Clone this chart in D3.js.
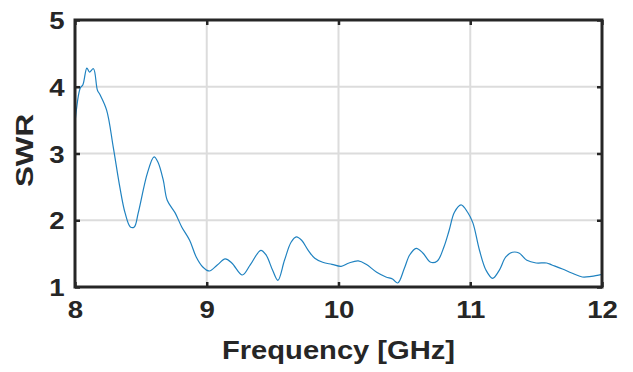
<!DOCTYPE html>
<html>
<head>
<meta charset="utf-8">
<script src="https://cdn.jsdelivr.net/npm/d3@7"></script>
<style>
  body { margin: 0; background: #fff; }
  text { font-family: "Liberation Sans", Arial, sans-serif; font-weight: bold; fill: #262626; }
</style>
</head>
<body>
<div id="chart"></div>
<script>
// measured SWR curve
const freq = [8.00, 8.04, 8.06, 8.09, 8.11, 8.14, 8.17, 8.19, 8.24, 8.29, 8.34, 8.38, 8.42, 8.45, 8.48,
  8.55, 8.60, 8.63, 8.67, 8.70, 8.76, 8.81, 8.87, 8.92, 8.97, 9.02, 9.08, 9.14, 9.19, 9.27, 9.33,
  9.41, 9.45, 9.50, 9.54, 9.59, 9.64, 9.68, 9.72, 9.77, 9.82, 9.88, 9.95, 10.02, 10.08, 10.15, 10.21,
  10.29, 10.36, 10.41, 10.45, 10.50, 10.54, 10.59, 10.64, 10.70, 10.75, 10.80, 10.84, 10.88, 10.93,
  10.98, 11.02, 11.07, 11.12, 11.17, 11.22, 11.27, 11.32, 11.37, 11.43, 11.50, 11.58, 11.62, 11.70,
  11.77, 11.85, 11.92, 12.00];
const swr = [3.46, 3.98, 4.03, 4.28, 4.22, 4.27, 3.95, 3.88, 3.65, 3.10, 2.50, 2.11, 1.90, 1.90, 2.11,
  2.71, 2.95, 2.87, 2.60, 2.30, 2.11, 1.90, 1.70, 1.45, 1.30, 1.24, 1.33, 1.42, 1.36, 1.18, 1.33,
  1.55, 1.48, 1.25, 1.10, 1.40, 1.67, 1.75, 1.70, 1.55, 1.43, 1.37, 1.34, 1.31, 1.36, 1.39, 1.34,
  1.22, 1.15, 1.12, 1.06, 1.28, 1.48, 1.58, 1.51, 1.37, 1.39, 1.60, 1.85, 2.12, 2.23,
  2.12, 1.96, 1.55, 1.25, 1.13, 1.25, 1.45, 1.52, 1.51, 1.40, 1.36, 1.36, 1.33, 1.27,
  1.21, 1.15, 1.16, 1.19];
const xTicks = [8, 9, 10, 11, 12];
const yTicks = [1, 2, 3, 4, 5];

const width = 633, height = 372;
const margin = {top: 20, right: 31, bottom: 85, left: 75};
const stretch = 1.15;

const svg = d3.select("#chart").append("svg")
  .attr("width", width)
  .attr("height", height);

const x = d3.scaleLinear().domain([8, 12]).range([margin.left, width - margin.right]);
const y = d3.scaleLinear().domain([1, 5]).range([height - margin.bottom, margin.top]);

// grid
svg.append("g")
  .selectAll("line.vg")
  .data(xTicks)
  .join("line")
  .attr("x1", d => x(d)).attr("x2", d => x(d))
  .attr("y1", y(1)).attr("y2", y(5))
  .attr("stroke", "#dcdcdc").attr("stroke-width", 2);
svg.append("g")
  .selectAll("line.hg")
  .data(yTicks)
  .join("line")
  .attr("x1", x(8)).attr("x2", x(12))
  .attr("y1", d => y(d)).attr("y2", d => y(d))
  .attr("stroke", "#dcdcdc").attr("stroke-width", 2);

// data line
const line = d3.line()
  .x((d, i) => x(freq[i]))
  .y(d => y(d))
  .curve(d3.curveCatmullRom);

svg.append("path")
  .datum(swr)
  .attr("fill", "none")
  .attr("stroke", "#1f82c0")
  .attr("stroke-width", 1.2)
  .attr("d", line);

// axes, ticks inward
const tickStyle = g => {
  g.select(".domain").remove();
  g.selectAll(".tick line").attr("stroke", "#262626").attr("stroke-width", 2.5);
};
const fmt = d3.format("d");

const xAxis = svg.append("g")
  .attr("transform", `translate(0,${y(1)})`)
  .call(d3.axisBottom(x).tickValues(xTicks).tickFormat(fmt).tickSizeInner(-5).tickSizeOuter(0).tickPadding(14))
  .call(tickStyle);
xAxis.selectAll("text")
  .attr("font-size", 24)
  .attr("transform", `scale(${stretch},1)`);

const yAxis = svg.append("g")
  .attr("transform", `translate(${x(8)},0)`)
  .call(d3.axisLeft(y).tickValues(yTicks).tickFormat(fmt).tickSizeInner(-5).tickSizeOuter(0).tickPadding(9))
  .call(tickStyle);
yAxis.selectAll("text")
  .attr("font-size", 24)
  .attr("dy", "0.36em")
  .attr("transform", `scale(${stretch},1)`);

svg.append("g")
  .attr("transform", `translate(0,${y(5)})`)
  .call(d3.axisTop(x).tickValues(xTicks).tickSizeInner(-5).tickSizeOuter(0).tickFormat(""))
  .call(tickStyle);
svg.append("g")
  .attr("transform", `translate(${x(12)},0)`)
  .call(d3.axisRight(y).tickValues(yTicks).tickSizeInner(-5).tickSizeOuter(0).tickFormat(""))
  .call(tickStyle);

// box
svg.append("rect")
  .attr("x", x(8)).attr("y", y(5))
  .attr("width", x(12) - x(8)).attr("height", y(1) - y(5))
  .attr("fill", "none")
  .attr("stroke", "#262626")
  .attr("stroke-width", 3);

// axis labels
svg.append("text")
  .attr("x", (x(8) + x(12)) / 2)
  .attr("y", 359)
  .attr("text-anchor", "middle")
  .attr("font-size", 25)
  .attr("textLength", 233)
  .attr("lengthAdjust", "spacingAndGlyphs")
  .text("Frequency [GHz]");

svg.append("text")
  .attr("transform", `translate(33,${(y(1) + y(5)) / 2 - 3}) rotate(-90)`)
  .attr("text-anchor", "middle")
  .attr("font-size", 23)
  .attr("textLength", 73)
  .attr("lengthAdjust", "spacingAndGlyphs")
  .text("SWR");
</script>
</body>
</html>
